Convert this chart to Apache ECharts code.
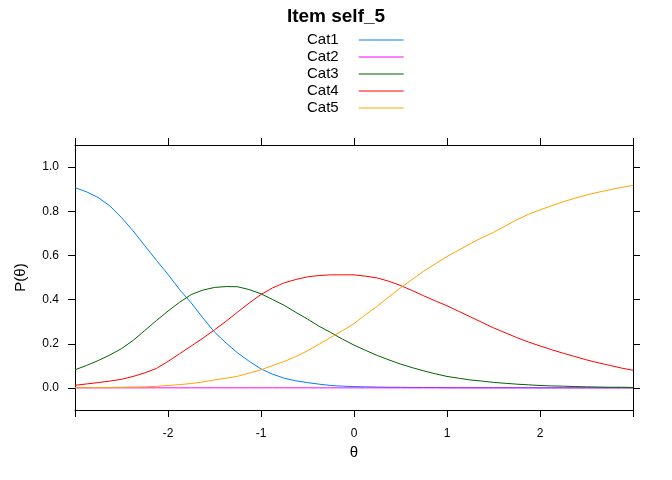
<!DOCTYPE html>
<html>
<head>
<meta charset="utf-8">
<script src="https://cdn.jsdelivr.net/npm/echarts@6/dist/echarts.min.js"></script>
<style>html,body{margin:0;padding:0;background:#fff}#c{width:672px;height:480px}</style>
</head>
<body>
<div id="c"></div>
<script>
const title = 'Item self_5';
const categories = ['Cat1', 'Cat2', 'Cat3', 'Cat4', 'Cat5'];
const colors = ['#0080ff', '#ff00ff', '#006400', '#ff0000', '#ffa500'];
const theta = [-3, -2.875, -2.75, -2.625, -2.5, -2.375, -2.25, -2.125, -2, -1.875, -1.75, -1.625,
               -1.5, -1.375, -1.25, -1.125, -1, -0.875, -0.75, -0.625, -0.5, -0.375, -0.25, -0.125,
               0, 0.125, 0.25, 0.375, 0.5, 0.625, 0.75, 0.875, 1, 1.125, 1.25, 1.375,
               1.5, 1.625, 1.75, 1.875, 2, 2.125, 2.25, 2.375, 2.5, 2.625, 2.75, 2.875, 3];
const cat1 = [0.907, 0.888, 0.862, 0.824, 0.771, 0.711, 0.644, 0.578, 0.514, 0.445, 0.385, 0.317,
              0.253, 0.203, 0.158, 0.12, 0.086, 0.062, 0.044, 0.032, 0.024, 0.017, 0.011, 0.008,
              0.006, 0.005, 0.004, 0.003, 0.003, 0.002, 0.002, 0.002, 0.001, 0.001, 0.001, 0.001,
              0.001, 0.001, 0.001, 0.001, 0.0005, 0.0005, 0.0005, 0.0005, 0.0005, 0.0005, 0.0005, 0.0005, 0.0005];
const cat2 = [0.0002, 0.0002, 0.0002, 0.0003, 0.0003, 0.0003, 0.0003, 0.0004, 0.0004, 0.0004, 0.0004, 0.0004,
              0.0004, 0.0004, 0.0004, 0.0004, 0.0004, 0.0004, 0.0004, 0.0004, 0.0004, 0.0003, 0.0003, 0.0003,
              0.0003, 0.0003, 0.0003, 0.0002, 0.0002, 0.0002, 0.0002, 0.0002, 0.0002, 0.0002, 0.0001, 0.0001,
              0.0001, 0.0001, 0.0001, 0.0001, 0.0001, 0.0001, 0.0001, 0.0001, 0.0001, 0.0001, 0.0001, 0.0001, 0.0001];
const cat3 = [0.082, 0.102, 0.124, 0.149, 0.178, 0.215, 0.26, 0.305, 0.348, 0.388, 0.423, 0.443,
              0.455, 0.459, 0.458, 0.445, 0.426, 0.4, 0.374, 0.342, 0.312, 0.279, 0.251, 0.221,
              0.194, 0.17, 0.147, 0.127, 0.108, 0.092, 0.077, 0.064, 0.052, 0.044, 0.036, 0.031,
              0.025, 0.021, 0.017, 0.014, 0.011, 0.009, 0.008, 0.006, 0.005, 0.004, 0.003, 0.003, 0.002];
const cat4 = [0.012, 0.018, 0.024, 0.031, 0.039, 0.052, 0.068, 0.088, 0.12, 0.155, 0.19, 0.225,
              0.263, 0.302, 0.344, 0.385, 0.423, 0.453, 0.476, 0.491, 0.503, 0.509, 0.512, 0.512,
              0.512, 0.506, 0.498, 0.483, 0.464, 0.441, 0.417, 0.394, 0.372, 0.347, 0.322, 0.297,
              0.272, 0.25, 0.228, 0.208, 0.19, 0.173, 0.157, 0.142, 0.127, 0.114, 0.102, 0.09, 0.08];
const cat5 = [0.001, 0.001, 0.002, 0.002, 0.003, 0.004, 0.005, 0.007, 0.011, 0.015, 0.02, 0.027,
              0.036, 0.044, 0.053, 0.067, 0.082, 0.101, 0.12, 0.142, 0.168, 0.198, 0.229, 0.259,
              0.291, 0.332, 0.37, 0.412, 0.453, 0.491, 0.529, 0.562, 0.595, 0.624, 0.653, 0.68,
              0.704, 0.733, 0.761, 0.786, 0.806, 0.825, 0.843, 0.859, 0.874, 0.886, 0.897, 0.908, 0.917];
const yTicks = [0, 0.2, 0.4, 0.6, 0.8, 1.0];
const xLabels = ['-2', '-1', '0', '1', '2'];

const seriesValues = [cat1, cat2, cat3, cat4, cat5];
const FONT = 'Liberation Sans, Arial, sans-serif';

const chart = echarts.init(document.getElementById('c'), null, {renderer: 'canvas'});
const axisLineStyle = {color: '#000', width: 1};
chart.setOption({
  animation: false,
  backgroundColor: '#fff',
  title: {
    text: title, left: 'center', top: 2,
    textStyle: {fontFamily: FONT, fontSize: 19, fontWeight: 'bold', color: '#000'}
  },
  legend: {
    data: categories,
    orient: 'vertical',
    left: 302, top: 27.5,
    align: 'right',
    icon: 'rect',
    itemWidth: 45, itemHeight: 1,
    itemGap: 2,
    itemStyle: {borderWidth: 0},
    textStyle: {fontFamily: FONT, fontSize: 15, color: '#000', lineHeight: 15, padding: [0, 15, 0, 0]},
    selectedMode: false
  },
  grid: {left: 75, right: 39, top: 145, bottom: 70, containLabel: false},
  xAxis: [{
    type: 'value', min: -3, max: 3, interval: 1, position: 'bottom',
    name: 'θ', nameLocation: 'middle', nameGap: 34,
    nameTextStyle: {fontFamily: FONT, fontSize: 15, color: '#000'},
    axisLine: {show: true, onZero: false, lineStyle: axisLineStyle},
    axisTick: {show: true, length: 7, lineStyle: axisLineStyle},
    axisLabel: {
      fontFamily: FONT, fontSize: 12, color: '#000', margin: 18,
      formatter: v => (xLabels.indexOf(String(v)) >= 0 ? String(v) : '')
    },
    splitLine: {show: false}
  }, {
    type: 'value', min: -3, max: 3, interval: 1, position: 'top',
    axisLine: {show: true, onZero: false, lineStyle: axisLineStyle},
    axisTick: {show: true, length: 7, lineStyle: axisLineStyle},
    axisLabel: {show: false},
    splitLine: {show: false}
  }],
  yAxis: [{
    type: 'value', min: -0.1, max: 1.1, position: 'left',
    name: 'P(θ)', nameLocation: 'middle', nameGap: 47, nameRotate: 90,
    nameTextStyle: {fontFamily: FONT, fontSize: 15, color: '#000'},
    axisLine: {show: true, onZero: false, lineStyle: axisLineStyle},
    axisTick: {show: true, length: 7, lineStyle: axisLineStyle, customValues: yTicks},
    axisLabel: {
      fontFamily: FONT, fontSize: 12, color: '#000', margin: 16,
      customValues: yTicks, formatter: v => v.toFixed(1)
    },
    splitLine: {show: false}
  }, {
    type: 'value', min: -0.1, max: 1.1, position: 'right',
    axisLine: {show: true, onZero: false, lineStyle: axisLineStyle},
    axisTick: {show: true, length: 7, lineStyle: axisLineStyle, customValues: yTicks},
    axisLabel: {show: false},
    splitLine: {show: false}
  }],
  series: categories.map((name, i) => ({
    name: name,
    type: 'line',
    xAxisIndex: 0, yAxisIndex: 0,
    data: theta.map((t, k) => [t, seriesValues[i][k]]),
    symbol: 'none',
    showSymbol: false,
    smooth: false,
    color: colors[i],
    lineStyle: {color: colors[i], width: 1},
    itemStyle: {color: colors[i], borderWidth: 0}
  }))
});
</script>
</body>
</html>
